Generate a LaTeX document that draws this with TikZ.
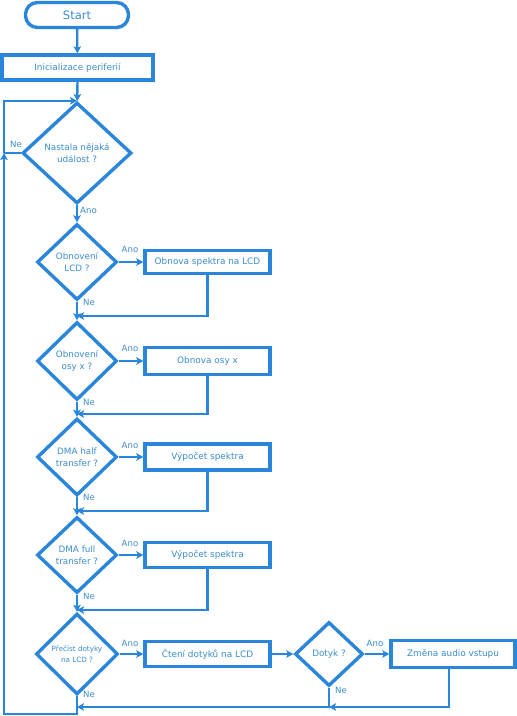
\documentclass[tikz,border=0pt]{standalone}
\usepackage{fontspec}
\setmainfont{DejaVu Sans}
\usetikzlibrary{shapes.geometric,arrows.meta}
\definecolor{fcline}{HTML}{2A86DA}
\definecolor{fctext}{HTML}{3C8DD0}
\begin{document}
\begin{tikzpicture}[x=1pt,y=-1pt,
  box/.style={draw=fcline,line width=3.4pt,fill=white,text=fctext,inner sep=0pt,font=\fontsize{8.9}{11}\selectfont,align=center},
  dec/.style={diamond,draw=fcline,line width=3.4pt,fill=white,text=fctext,inner sep=0pt,aspect=1,font=\fontsize{8.8}{12.5}\selectfont,align=center},
  conn/.style={draw=fcline,line width=2.3pt},
  arr/.style={conn,-{Stealth[length=7pt,width=7.5pt,inset=1.5pt]}},
  lbl/.style={text=fctext,font=\fontsize{8.6}{10}\selectfont,inner sep=0pt}]
\useasboundingbox (0,0) rectangle (517,716);
\fill[white] (0,0) rectangle (517,716);
% nodes
\node[box,rounded corners=12pt,minimum width=103pt,minimum height=25pt,font=\fontsize{11.5}{13}\selectfont] (start) at (77,15) {Start};
\node[box,minimum width=151pt,minimum height=25pt] (init) at (77.5,67.5) {Inicializace periferií};
\node[dec,minimum width=109pt,minimum height=101pt] (d1) at (77,153) {Nastala nějaká\\událost ?};
\node[dec,minimum width=80pt,minimum height=76pt] (d2) at (77,262) {Obnovení\\LCD ?};
\node[box,minimum width=125pt,minimum height=23pt] (b2) at (207.5,262) {Obnova spektra na LCD};
\node[dec,minimum width=80pt,minimum height=78pt] (d3) at (77,361) {Obnovení\\osy x ?};
\node[box,minimum width=125pt,minimum height=27pt] (b3) at (207.5,361) {Obnova osy x};
\node[dec,minimum width=80pt,minimum height=77pt] (d4) at (77,457) {DMA half\\transfer ?};
\node[box,minimum width=125pt,minimum height=26pt] (b4) at (207.5,457) {Výpočet spektra};
\node[dec,minimum width=80pt,minimum height=76pt] (d5) at (77,555) {DMA full\\transfer ?};
\node[box,minimum width=125pt,minimum height=25pt] (b5) at (207.5,555) {Výpočet spektra};
\node[dec,minimum width=82pt,minimum height=81pt,font=\fontsize{7.2}{11}\selectfont] (d6) at (77,654) {Přečíst dotyky\\na LCD ?};
\node[box,minimum width=125pt,minimum height=25pt] (b6) at (207.5,654) {Čtení dotyků na LCD};
\node[dec,minimum width=68pt,minimum height=64pt] (d7) at (329,654) {Dotyk ?};
\node[box,minimum width=124pt,minimum height=27pt] (b7) at (453,654) {Změna audio vstupu};
% coordinates
\coordinate (ltop) at (4,0);
\coordinate (lmid) at (4,153);
\coordinate (lbot) at (4,714);
\coordinate (jbot) at (77,714);
\coordinate (r2) at (77,316);
\coordinate (r3) at (77,414);
\coordinate (r4) at (77,511);
\coordinate (r5) at (77,610);
\coordinate (r6) at (77,707);
\coordinate (b7out) at (449,668);
% connectors
\draw[arr] (start) -- (init);
\draw[arr] (init) -- (d1);
\draw[conn] (d1.west) -- (lmid);
\draw[arr] (lmid) -- (ltop |- d1.north) -- (d1.north);
\draw[arr] (d1) -- (d2);
\draw[arr] (d2) -- (b2);
\draw[arr] (b2.south) |- (r2);
\draw[arr] (d2) -- (d3);
\draw[arr] (d3) -- (b3);
\draw[arr] (b3.south) |- (r3);
\draw[arr] (d3) -- (d4);
\draw[arr] (d4) -- (b4);
\draw[arr] (b4.south) |- (r4);
\draw[arr] (d4) -- (d5);
\draw[arr] (d5) -- (b5);
\draw[arr] (b5.south) |- (r5);
\draw[arr] (d5) -- (d6);
\draw[arr] (d6) -- (b6);
\draw[arr] (b6) -- (d7);
\draw[arr] (d7) -- (b7);
\draw[arr] (d7.south) |- (r6);
\draw[arr] (b7out) |- (d7.south |- r6);
\draw[arr] (d6.south) -- (jbot) -- (lbot) -- (lmid);
% labels
\node[lbl,anchor=west] at (80,210) {Ano};
\node[lbl] at (16,144) {Ne};
\node[lbl] at (130,249) {Ano};
\node[lbl] at (89,302) {Ne};
\node[lbl] at (130,348) {Ano};
\node[lbl] at (89,402) {Ne};
\node[lbl] at (130,445) {Ano};
\node[lbl] at (89,497) {Ne};
\node[lbl] at (130,543) {Ano};
\node[lbl] at (89,596) {Ne};
\node[lbl] at (130,643) {Ano};
\node[lbl] at (89,694) {Ne};
\node[lbl] at (375,643) {Ano};
\node[lbl] at (341,690) {Ne};
\end{tikzpicture}
\end{document}
